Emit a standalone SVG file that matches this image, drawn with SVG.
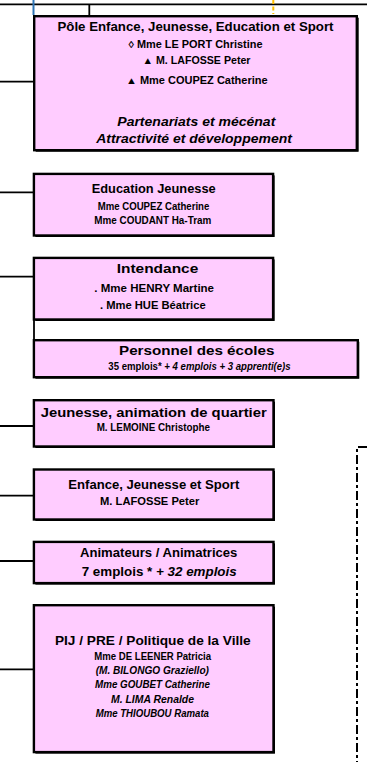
<svg xmlns="http://www.w3.org/2000/svg" width="367" height="764" viewBox="0 0 367 764">
<style>
.box{fill:#FFCCFF;stroke:#000;stroke-width:2.4}
.sh{fill:#000}
.ln{stroke:#000;stroke-width:1.8;fill:none}
text{font-family:"Liberation Sans",Arial,sans-serif;font-weight:bold;fill:#000;text-anchor:middle}
.t{font-size:12.5px}
.s{font-size:10px}
.it{font-style:italic}
.b{font-size:13.5px;font-style:italic}
</style>
<rect width="367" height="764" fill="#fff"/>
<g id="connectors">
<line class="ln" x1="0" y1="4.3" x2="367" y2="4.3" stroke-width="1.7"/>
<line x1="33.5" y1="0" x2="33.5" y2="15" stroke="#2E75B6" stroke-width="2"/>
<line class="ln" x1="89.3" y1="4" x2="89.3" y2="15" stroke-width="1.5"/>
<line x1="273.3" y1="0" x2="273.3" y2="14" stroke="#FFC000" stroke-width="2" stroke-dasharray="4 2.5"/>
<line class="ln" x1="0" y1="81.7" x2="34" y2="81.7"/>
<line class="ln" x1="0" y1="192.3" x2="34" y2="192.3"/>
<line class="ln" x1="0" y1="276.7" x2="34" y2="276.7"/>
<line class="ln" x1="34" y1="318" x2="34" y2="341" stroke-width="2.4"/>
<line class="ln" x1="0" y1="426" x2="34" y2="426"/>
<line class="ln" x1="0" y1="495.7" x2="34" y2="495.7"/>
<line class="ln" x1="0" y1="561" x2="34" y2="561"/>
<line class="ln" x1="0" y1="669.3" x2="34" y2="669.3"/>
<path d="M367 447 H357 V762" fill="none" stroke="#000" stroke-width="2" stroke-dasharray="9 3 3 3"/>
</g>
<g id="pole">
<rect class="sh" x="35.7" y="17.7" width="323" height="134"/>
<rect class="box" x="34.2" y="16.2" width="322.6" height="134"/>
<text class="t" x="195.5" y="30.7" textLength="276" lengthAdjust="spacingAndGlyphs">Pôle Enfance, Jeunesse, Education et Sport</text>
<text class="s" x="195.5" y="47.7" textLength="134" lengthAdjust="spacingAndGlyphs">◊ Mme LE PORT Christine</text>
<text class="s" x="196.5" y="64.3" textLength="108" lengthAdjust="spacingAndGlyphs">▲ M. LAFOSSE Peter</text>
<text class="s" x="196.8" y="84.3" textLength="141.7" lengthAdjust="spacingAndGlyphs">▲ Mme COUPEZ Catherine</text>
<text class="b" x="196.3" y="125.7" textLength="158" lengthAdjust="spacingAndGlyphs">Partenariats et mécénat</text>
<text class="b" x="194" y="142.7" textLength="195.7" lengthAdjust="spacingAndGlyphs">Attractivité et développement</text>
</g>
<g id="education">
<rect class="sh" x="35.4" y="175.4" width="239.2" height="61.6"/>
<rect class="box" x="33.9" y="173.9" width="239.2" height="61.6"/>
<text class="t" x="153.7" y="193.3" textLength="124" lengthAdjust="spacingAndGlyphs">Education Jeunesse</text>
<text class="s" x="153.5" y="210" textLength="111.7" lengthAdjust="spacingAndGlyphs">Mme COUPEZ Catherine</text>
<text class="s" x="152.8" y="224.3" textLength="117" lengthAdjust="spacingAndGlyphs">Mme COUDANT Ha-Tram</text>
</g>
<g id="intendance">
<rect class="sh" x="35.4" y="259.4" width="239.2" height="61.6"/>
<rect class="box" x="33.9" y="257.9" width="239.2" height="61.6"/>
<text class="t" x="157.5" y="273.2" textLength="81.6" lengthAdjust="spacingAndGlyphs">Intendance</text>
<text class="s" x="154.2" y="291.7" textLength="119.7" lengthAdjust="spacingAndGlyphs">. Mme HENRY Martine</text>
<text class="s" x="152.8" y="309" textLength="105.7" lengthAdjust="spacingAndGlyphs">. Mme HUE Béatrice</text>
</g>
<g id="personnel">
<rect class="sh" x="35.4" y="341.7" width="323.9" height="37"/>
<rect class="box" x="33.9" y="340.2" width="323.9" height="37"/>
<text class="t" x="196.7" y="355" textLength="155.3" lengthAdjust="spacingAndGlyphs">Personnel des écoles</text>
<text class="s" x="199.5" y="370" textLength="182.3" lengthAdjust="spacingAndGlyphs">35 emplois* <tspan class="it">+ 4 emplois + 3 apprenti(e)s</tspan></text>
</g>
<g id="jeunesse">
<rect class="sh" x="35.4" y="401.7" width="239.6" height="46.3"/>
<rect class="box" x="33.9" y="400.2" width="239.6" height="46.3"/>
<text class="t" x="153.7" y="416.7" textLength="226" lengthAdjust="spacingAndGlyphs">Jeunesse, animation de quartier</text>
<text class="s" x="153.3" y="431.3" textLength="113.3" lengthAdjust="spacingAndGlyphs">M. LEMOINE Christophe</text>
</g>
<g id="enfance">
<rect class="sh" x="35.4" y="471" width="239.6" height="50"/>
<rect class="box" x="33.9" y="469.5" width="239.6" height="50"/>
<text class="t" x="153.8" y="489.3" textLength="171" lengthAdjust="spacingAndGlyphs">Enfance, Jeunesse et Sport</text>
<text class="s" x="149.7" y="505" textLength="99.3" lengthAdjust="spacingAndGlyphs">M. LAFOSSE Peter</text>
</g>
<g id="animateurs">
<rect class="sh" x="35.4" y="543.4" width="239.6" height="41.2"/>
<rect class="box" x="33.9" y="541.9" width="239.6" height="41.2"/>
<text class="t" x="158.7" y="557.3" textLength="157.3" lengthAdjust="spacingAndGlyphs">Animateurs / Animatrices</text>
<text class="t" x="159.2" y="576" textLength="155" lengthAdjust="spacingAndGlyphs">7 emplois * <tspan class="it">+ 32 emplois</tspan></text>
</g>
<g id="pij">
<rect class="sh" x="35.4" y="606.7" width="239.6" height="146.9"/>
<rect class="box" x="33.9" y="605.2" width="239.6" height="146.9"/>
<text class="t" x="152.8" y="645" textLength="195.7" lengthAdjust="spacingAndGlyphs">PIJ / PRE / Politique de la Ville</text>
<text class="s" x="152.7" y="660" textLength="116.7" lengthAdjust="spacingAndGlyphs">Mme DE LEENER Patricia</text>
<text class="s it" x="152.3" y="674.3" textLength="113.3" lengthAdjust="spacingAndGlyphs">(M. BILONGO Graziello)</text>
<text class="s it" x="152.5" y="688.3" textLength="115" lengthAdjust="spacingAndGlyphs">Mme GOUBET Catherine</text>
<text class="s it" x="152.5" y="702.7" textLength="83" lengthAdjust="spacingAndGlyphs">M. LIMA Renalde</text>
<text class="s it" x="152.3" y="716.7" textLength="113.3" lengthAdjust="spacingAndGlyphs">Mme THIOUBOU Ramata</text>
</g>
</svg>
